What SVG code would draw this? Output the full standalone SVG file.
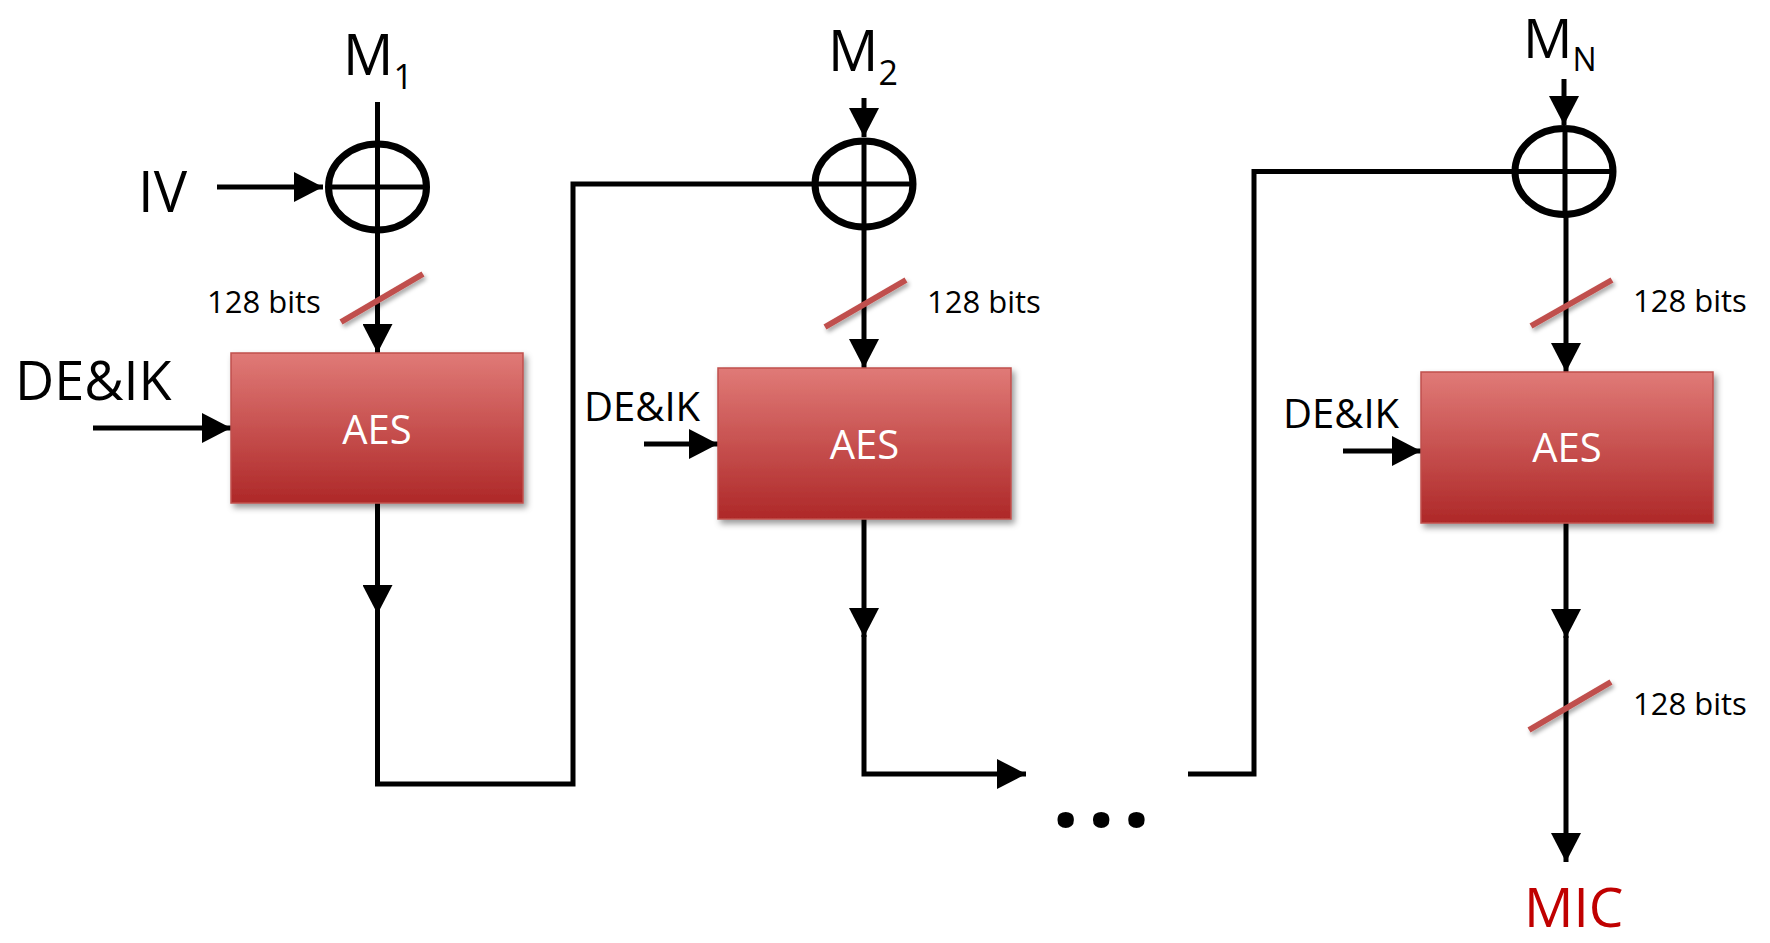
<svg xmlns="http://www.w3.org/2000/svg" width="1770" height="943" viewBox="0 0 1770 943">
<defs>
<linearGradient id="aesGrad" x1="0" y1="0" x2="0" y2="1">
<stop offset="0" stop-color="#e07a77"/>
<stop offset="1" stop-color="#ae2828"/>
</linearGradient>
<filter id="shadow" x="-10%" y="-10%" width="130%" height="140%">
<feDropShadow dx="3" dy="4" stdDeviation="3" flood-color="#000" flood-opacity="0.4"/>
</filter>
<filter id="slashShadow" x="-20%" y="-20%" width="150%" height="160%">
<feDropShadow dx="2" dy="3" stdDeviation="2" flood-color="#000" flood-opacity="0.35"/>
</filter>
<marker id="arrow" markerUnits="userSpaceOnUse" markerWidth="30" markerHeight="30" viewBox="0 0 30 30" refX="29" refY="15" orient="auto">
<path d="M0,0 L29,15 L0,30 Z" fill="#000"/>
</marker>
</defs>
<style>
.ln{fill:none;stroke:#000;stroke-width:5}
.xor{fill:#fff;stroke:#000;stroke-width:7}
.cross{stroke:#000;stroke-width:5}
.aes{fill:url(#aesGrad);stroke:#c0504d;stroke-width:1.5;filter:url(#shadow)}
.aest{font-family:"Open Sans","Liberation Sans",sans-serif;font-size:40px;fill:#fff;text-anchor:middle}
.lbl{font-family:"Open Sans","Liberation Sans",sans-serif;fill:#000}
.bits{font-family:"Open Sans","Liberation Sans",sans-serif;font-size:31px;fill:#000}
.slash{stroke:#c0504d;stroke-width:6;filter:url(#slashShadow)}
</style>
<rect width="1770" height="943" fill="#fff"/>

<g id="connectors">
<path class="ln" d="M217,187 H323" marker-end="url(#arrow)"/>
<path class="ln" d="M377.5,102 V353" marker-end="url(#arrow)"/>
<path class="ln" d="M93,428 H231" marker-end="url(#arrow)"/>
<path class="ln" d="M377.5,503 V614" marker-end="url(#arrow)"/>
<path class="ln" d="M377.5,612 V784 H573 V184 H815"/>
<path class="ln" d="M864,98 V137" marker-end="url(#arrow)"/>
<path class="ln" d="M864,227 V368" marker-end="url(#arrow)"/>
<path class="ln" d="M644,444 H718" marker-end="url(#arrow)"/>
<path class="ln" d="M864,519 V637" marker-end="url(#arrow)"/>
<path class="ln" d="M864,635 V774 H1026" marker-end="url(#arrow)"/>
<path class="ln" d="M1188,774 H1254 V171.5 H1515"/>
<path class="ln" d="M1564,79 V125" marker-end="url(#arrow)"/>
<path class="ln" d="M1566,215 V372" marker-end="url(#arrow)"/>
<path class="ln" d="M1343,451 H1421" marker-end="url(#arrow)"/>
<path class="ln" d="M1566,523 V638" marker-end="url(#arrow)"/>
<path class="ln" d="M1566,636 V862" marker-end="url(#arrow)"/>
</g>

<g id="xor1">
<ellipse class="xor" cx="377.5" cy="187" rx="49" ry="43"/>
<line class="cross" x1="328.5" y1="187" x2="426.5" y2="187"/>
<line class="cross" x1="377.5" y1="144" x2="377.5" y2="230"/>
</g>
<g id="xor2">
<ellipse class="xor" cx="864" cy="184" rx="49" ry="43"/>
<line class="cross" x1="815" y1="184" x2="913" y2="184"/>
<line class="cross" x1="864" y1="141" x2="864" y2="227"/>
</g>
<g id="xor3">
<ellipse class="xor" cx="1564" cy="171.5" rx="49" ry="43"/>
<line class="cross" x1="1515" y1="171.5" x2="1613" y2="171.5"/>
<line class="cross" x1="1565" y1="128.5" x2="1565" y2="214.5"/>
</g>

<g id="aes1">
<rect class="aes" x="231" y="353" width="292" height="150"/>
<text class="aest" x="377" y="444">AES</text>
</g>
<g id="aes2">
<rect class="aes" x="718" y="368" width="293" height="151"/>
<text class="aest" x="864.5" y="459">AES</text>
</g>
<g id="aes3">
<rect class="aes" x="1421" y="372" width="292" height="151"/>
<text class="aest" x="1567" y="462">AES</text>
</g>

<g id="labels">
<text class="lbl" x="343" y="75" font-size="56">M<tspan dy="14" font-size="34">1</tspan></text>
<text class="lbl" x="828" y="71" font-size="56">M<tspan dy="14" font-size="34">2</tspan></text>
<text class="lbl" x="1523" y="58" font-size="55">M<tspan dy="13" font-size="32">N</tspan></text>
<text class="lbl" x="138" y="212" font-size="56">IV</text>
<text class="lbl" x="15" y="400" font-size="54">DE&amp;IK</text>
<text class="lbl" x="584" y="421" font-size="40">DE&amp;IK</text>
<text class="lbl" x="1283" y="428" font-size="40">DE&amp;IK</text>
<text class="lbl" x="1524" y="927" font-size="55" style="fill:#c00000">MIC</text>
<text class="lbl" x="1052" y="827" font-size="96" font-weight="bold" letter-spacing="8">...</text>
</g>

<g id="widths">
<line class="slash" x1="341" y1="322" x2="423" y2="274"/>
<text class="bits" x="207" y="313">128 bits</text>
<line class="slash" x1="825" y1="327" x2="906" y2="280"/>
<text class="bits" x="927" y="313">128 bits</text>
<line class="slash" x1="1531" y1="326" x2="1612" y2="280"/>
<text class="bits" x="1633" y="312">128 bits</text>
<line class="slash" x1="1529" y1="730" x2="1611" y2="682"/>
<text class="bits" x="1633" y="715">128 bits</text>
</g>
</svg>
